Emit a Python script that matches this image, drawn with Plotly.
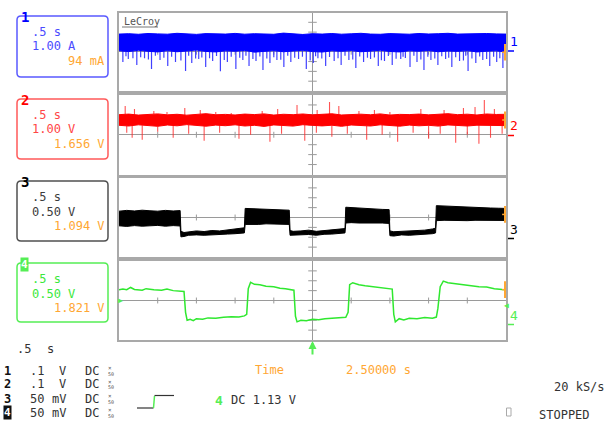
import numpy as np
import plotly.graph_objects as go

W, H = 616, 422


def fx(x):
    return x / W


def fy(y):
    return 1 - y / H


# ---------------- acquisition settings ----------------
TIME_PER_DIV = 0.5
N_XDIV, N_YDIV = 10, 8
T_END = TIME_PER_DIV * N_XDIV
SCALE = [1.00, 1.00, 0.50, 0.50]          # units per division, channels 1-4
TRACE_COLORS = ["#0000ff", "#ff0000", "#000000", "#2fe82f"]
TEXT_COLORS = ["#4b4bff", "#ff4646", "#3c3c3c", "#3be83b"]
BOX_COLORS = ["#5a5aff", "#ff5a5a", "#505050", "#55ee55"]
ORANGE = "#ffa733"
FRAME = "#a9a9a9"
GRID = "#9a9a9a"
MONO = "DejaVu Sans Mono"

# ---------------- channel 1 (current, A) ----------------
ch1_band_t = [i * 0.125 for i in range(41)]
ch1_band_hi = [1.80, 1.84, 1.78, 1.86, 1.82, 1.79, 1.88, 1.81, 1.77, 1.85, 1.83,
               1.80, 1.87, 1.79, 1.84, 1.82, 1.78, 1.90, 1.81, 1.76, 1.84, 1.80,
               1.86, 1.79, 1.83, 1.88, 1.80, 1.78, 1.85, 1.82, 1.79, 1.86, 1.81,
               1.84, 1.88, 1.80, 1.83, 1.79, 1.86, 1.82, 1.80]
ch1_band_lo = [0.10, 0.02, 0.15, 0.05, -0.02, 0.12, 0.00, 0.08, 0.18, 0.03,
               -0.02, 0.10, 0.05, 0.14, -0.04, 0.06, 0.12, 0.00, 0.08, 0.15,
               0.02, -0.03, 0.10, 0.05, 0.12, 0.00, 0.07, 0.15, 0.03, -0.02,
               0.10, 0.06, 0.13, 0.00, 0.08, 0.04, 0.12, -0.02, 0.06, 0.10,
               -0.05]
ch1_spike_t = [0.05, 0.12, 0.23, 0.33, 0.42, 0.53, 0.63, 0.73, 0.86, 0.94, 1.03,
               1.12, 1.21, 1.31, 1.40, 1.51, 1.60, 1.68, 1.77, 1.86, 1.95, 2.04,
               2.13, 2.22, 2.32, 2.42, 2.51, 2.57, 2.67, 2.78, 2.87, 2.97, 3.06,
               3.16, 3.25, 3.35, 3.43, 3.53, 3.64, 3.76, 3.85, 3.94, 4.03, 4.12,
               4.22, 4.30, 4.40, 4.51, 4.61, 4.70, 4.79, 4.88, 4.96,
               0.18, 0.38, 0.58, 0.80, 0.99, 1.17, 1.36, 1.56, 1.73, 1.91, 2.09,
               2.27, 2.47, 2.62, 2.83, 3.02, 3.21, 3.39, 3.58, 3.70, 3.90, 4.08,
               4.26, 4.45, 4.56, 4.75, 4.92,
               0.09, 0.28, 0.47, 0.68, 0.90, 1.07, 1.26, 1.45, 1.64, 1.82, 2.00,
               2.18, 2.37, 2.54, 2.72, 2.92, 3.11, 3.30, 3.48, 3.67, 3.81, 3.99,
               4.17, 4.35, 4.48, 4.66, 4.84]
ch1_spike_min = [-1.05, -0.75, -1.35, -0.65, -1.75, -0.85, -1.45, -1.05, -1.95,
                 -1.15, -0.75, -1.55, -0.95, -2.00, -1.05, -1.75, -0.85, -1.45,
                 -0.95, -1.85, -1.15, -0.85, -1.55, -1.05, -0.75, -1.75, -1.15,
                 -0.65, -1.45, -0.95, -1.35, -0.85, -1.65, -1.05, -0.75, -1.45,
                 -0.95, -1.35, -0.75, -1.55, -1.05, -1.85, -0.85, -1.35, -0.75,
                 -1.55, -0.95, -1.95, -1.15, -0.85, -1.45, -1.05, -1.65,
                 -0.65, -0.80, -0.60, -0.90, -0.70, -0.65, -0.85, -0.60, -0.75,
                 -0.68, -0.82, -0.62, -0.90, -0.70, -0.65, -0.78, -0.60, -0.86,
                 -0.72, -0.64, -0.80, -0.68, -0.62, -0.88, -0.70, -0.75, -0.66,
                 -0.45, -0.55, -0.40, -0.50, -0.42, -0.58, -0.44, -0.52, -0.40,
                 -0.48, -0.56, -0.42, -0.50, -0.46, -0.54, -0.40, -0.48, -0.58,
                 -0.44, -0.52, -0.40, -0.50, -0.46, -0.55, -0.42, -0.48, -0.52]

# ---------------- channel 2 (V) ----------------
ch2_band_t = [i * 0.125 for i in range(41)]
ch2_band_hi = [2.02, 2.08, 1.98, 2.05, 2.10, 2.00, 2.06, 1.97, 2.04, 2.12, 2.01,
               2.05, 1.99, 2.08, 2.03, 2.10, 1.98, 2.06, 2.02, 2.09, 2.00, 2.05,
               2.11, 1.99, 2.04, 2.07, 2.01, 2.10, 1.98, 2.05, 2.03, 2.08, 2.00,
               2.06, 2.12, 2.02, 2.07, 1.99, 2.09, 2.04, 2.06]
ch2_band_lo = [0.95, 0.88, 1.00, 0.92, 0.85, 0.98, 0.90, 1.02, 0.94, 0.86, 0.97,
               0.91, 1.00, 0.88, 0.95, 0.84, 0.99, 0.92, 0.87, 1.01, 0.93, 0.89,
               0.96, 0.85, 0.98, 0.91, 0.88, 1.00, 0.93, 0.86, 0.97, 0.90, 0.95,
               0.87, 0.99, 0.92, 0.88, 0.96, 0.90, 0.94, 0.92]
ch2_up_t = [0.08, 0.20, 0.45, 0.62, 0.85, 1.05, 1.25, 1.45, 1.85, 2.05, 2.30,
            2.56, 2.72, 2.84, 3.10, 3.30, 3.50, 3.90, 4.20, 4.45, 4.60, 4.72, 4.85]
ch2_up_max = [2.9, 2.6, 2.4, 2.3, 2.7, 2.5, 2.3, 2.2, 2.4, 2.6, 3.0, 2.5, 3.3,
              2.9, 2.4, 2.5, 2.3, 2.6, 2.5, 2.7, 2.8, 3.5, 2.6]
ch2_dn_t = [0.10, 0.17, 0.30, 0.50, 0.70, 0.90, 1.10, 1.30, 1.55, 1.70, 1.95,
            2.10, 2.40, 2.55, 2.75, 2.95, 3.20, 3.40, 3.60, 3.80, 4.00, 4.15,
            4.35, 4.50, 4.65, 4.80, 4.95]
ch2_dn_min = [0.2, -0.3, -0.5, 0.3, -0.3, 0.1, -0.6, 0.2, -0.4, 0.0, -0.7, 0.1,
              -0.6, 0.2, -0.2, 0.1, -0.5, 0.0, -0.7, 0.2, -0.4, 0.1, -0.8, 0.0,
              -0.9, -0.3, 0.1]

# ---------------- channel 3 (V): envelope of the noisy square wave ----------------
ch3_t = [0.00, 0.10, 0.20, 0.30, 0.40, 0.50, 0.60, 0.70, 0.79, 0.80, 0.84, 0.90,
         1.00, 1.10, 1.20, 1.30, 1.40, 1.50, 1.58, 1.62, 1.63, 1.70, 1.80, 1.90,
         2.00, 2.10, 2.20, 2.21, 2.25, 2.35, 2.45, 2.55, 2.65, 2.75, 2.85, 2.92,
         2.93, 3.00, 3.10, 3.20, 3.30, 3.40, 3.49, 3.50, 3.55, 3.65, 3.75, 3.85,
         3.95, 4.05, 4.09, 4.10, 4.20, 4.30, 4.40, 4.50, 4.60, 4.70, 4.80, 4.90,
         5.00]
ch3_upper = [0.32, 0.36, 0.33, 0.37, 0.34, 0.32, 0.36, 0.33, 0.35, -0.70, -0.76,
             -0.72, -0.68, -0.71, -0.66, -0.68, -0.64, -0.60, -0.56, -0.52, 0.46,
             0.45, 0.42, 0.41, 0.40, 0.38, 0.37, -0.66, -0.70, -0.68, -0.64, -0.70,
             -0.66, -0.64, -0.60, -0.56, 0.52, 0.50, 0.47, 0.45, 0.43, 0.41, 0.40,
             -0.68, -0.72, -0.70, -0.68, -0.66, -0.64, -0.58, -0.54, 0.60, 0.58,
             0.55, 0.53, 0.52, 0.50, 0.49, 0.48, 0.47, 0.46]
ch3_lower = [-0.42, -0.45, -0.41, -0.44, -0.42, -0.40, -0.44, -0.41, -0.43, -0.98,
             -0.96, -0.90, -0.88, -0.90, -0.85, -0.86, -0.84, -0.82, -0.80, -0.78,
             -0.35, -0.33, -0.35, -0.32, -0.34, -0.33, -0.35, -0.90, -0.92, -0.88,
             -0.86, -0.90, -0.85, -0.84, -0.82, -0.78, -0.28, -0.26, -0.28, -0.27,
             -0.29, -0.28, -0.30, -0.92, -0.94, -0.88, -0.90, -0.86, -0.85, -0.82,
             -0.78, -0.16, -0.14, -0.17, -0.15, -0.16, -0.14, -0.15, -0.13, -0.14,
             -0.15]

# ---------------- channel 4 (V) ----------------
ch4_t = [0.00, 0.05, 0.10, 0.15, 0.20, 0.30, 0.35, 0.45, 0.55, 0.62, 0.70, 0.80,
         0.84, 0.86, 0.88, 0.92, 0.96, 1.00, 1.08, 1.15, 1.25, 1.35, 1.45, 1.55,
         1.62, 1.65, 1.67, 1.70, 1.75, 1.82, 1.90, 2.00, 2.08, 2.15, 2.22, 2.26,
         2.28, 2.30, 2.35, 2.42, 2.50, 2.58, 2.66, 2.75, 2.85, 2.93, 2.96, 2.98,
         3.02, 3.10, 3.18, 3.28, 3.38, 3.48, 3.53, 3.55, 3.57, 3.62, 3.68, 3.75,
         3.85, 3.95, 4.05, 4.10, 4.12, 4.15, 4.19, 4.25, 4.35, 4.45, 4.55, 4.65,
         4.75, 4.85, 4.95, 5.00]
ch4_v = [0.55, 0.58, 0.55, 0.66, 0.56, 0.52, 0.60, 0.54, 0.52, 0.58, 0.50, 0.48,
         0.46, -0.60, -1.00, -0.95, -1.02, -0.92, -0.95, -0.88, -0.90, -0.85,
         -0.82, -0.84, -0.78, -0.70, 0.60, 0.92, 0.82, 0.80, 0.72, 0.70, 0.62,
         0.60, 0.55, 0.52, -0.80, -1.08, -1.00, -1.02, -0.95, -0.98, -0.92, -0.90,
         -0.88, -0.85, -0.60, 0.80, 0.90, 0.80, 0.75, 0.70, 0.66, 0.60, 0.58,
         -0.70, -1.08, -0.92, -0.98, -0.90, -0.92, -0.86, -0.90, -0.84, -0.40,
         0.70, 0.98, 0.90, 0.85, 0.78, 0.75, 0.70, 0.68, 0.60, 0.56, 0.55]

# ---------------- readouts ----------------
box_lines = [(".5 s", "1.00 A", "94 mA"),
             (".5 s", "1.00 V", "1.656 V"),
             (".5 s", "0.50 V", "1.094 V"),
             (".5 s", "0.50 V", "1.821 V")]
row_values = [".1", ".1", "50", "50"]
row_units = ["V", "V", "mV", "mV"]
time_label, time_value = "Time", "2.50000 s"
trig_label = "DC 1.13 V"
rate_label = "20 kS/s"
state_label = "STOPPED"

# ---------------- layout geometry (pixels) ----------------
PANEL_X = (119, 506)
PANEL_Y = [(12.5, 91), (95, 174.5), (178, 257), (261, 340)]
BOX_X = (17, 108)
BOX_Y = [(16, 77), (99, 159), (181, 241), (263, 322)]


def spikes(ts, ends, base_t, base_v):
    xs, ys = [], []
    for t, v in zip(ts, ends):
        b = float(np.interp(t, base_t, base_v))
        xs += [t, t, None]
        ys += [b, v, None]
    return xs, ys


def band(t, hi, lo):
    return list(t) + list(t)[::-1], list(hi) + list(lo)[::-1]


fig = go.Figure()

# channel 1
sx, sy = spikes(ch1_spike_t, ch1_spike_min, ch1_band_t, ch1_band_lo)
fig.add_trace(go.Scatter(x=sx, y=sy, mode="lines",
                         line=dict(color="rgba(30,30,255,0.85)", width=1.2),
                         xaxis="x", yaxis="y", hoverinfo="skip"))
bx, by = band(ch1_band_t, ch1_band_hi, ch1_band_lo)
fig.add_trace(go.Scatter(x=bx, y=by, fill="toself", fillcolor=TRACE_COLORS[0],
                         line=dict(color=TRACE_COLORS[0], width=1), mode="lines",
                         xaxis="x", yaxis="y", hoverinfo="skip"))

# channel 2
ux, uy = spikes(ch2_up_t, ch2_up_max, ch2_band_t, ch2_band_hi)
dx, dy = spikes(ch2_dn_t, ch2_dn_min, ch2_band_t, ch2_band_lo)
fig.add_trace(go.Scatter(x=ux + dx, y=uy + dy, mode="lines",
                         line=dict(color="rgba(255,40,40,0.8)", width=1.1),
                         xaxis="x2", yaxis="y2", hoverinfo="skip"))
bx, by = band(ch2_band_t, ch2_band_hi, ch2_band_lo)
fig.add_trace(go.Scatter(x=bx, y=by, fill="toself", fillcolor=TRACE_COLORS[1],
                         line=dict(color=TRACE_COLORS[1], width=1), mode="lines",
                         xaxis="x2", yaxis="y2", hoverinfo="skip"))

# channel 3
bx, by = band(ch3_t, ch3_upper, ch3_lower)
fig.add_trace(go.Scatter(x=bx, y=by, fill="toself", fillcolor=TRACE_COLORS[2],
                         line=dict(color=TRACE_COLORS[2], width=1), mode="lines",
                         xaxis="x3", yaxis="y3", hoverinfo="skip"))

# channel 4
fig.add_trace(go.Scatter(x=ch4_t, y=ch4_v, mode="lines",
                         line=dict(color=TRACE_COLORS[3], width=1.5),
                         xaxis="x4", yaxis="y4", hoverinfo="skip"))

shapes, annotations = [], []
layout = dict(width=W, height=H, margin=dict(l=0, r=0, t=0, b=0),
              paper_bgcolor="white", plot_bgcolor="white", showlegend=False)

for i in range(4):
    s = SCALE[i]
    top, bot = PANEL_Y[i]
    xn = "x" if i == 0 else f"x{i + 1}"
    yn = "y" if i == 0 else f"y{i + 1}"
    layout["xaxis" if i == 0 else f"xaxis{i + 1}"] = dict(
        domain=[fx(PANEL_X[0]), fx(PANEL_X[1])], range=[0, T_END], anchor=yn,
        showline=True, mirror=True, linecolor=FRAME, linewidth=2,
        tickvals=[T_END / 2], showticklabels=False, ticks="",
        showgrid=True, gridcolor=GRID, gridwidth=1, zeroline=False, fixedrange=True)
    layout["yaxis" if i == 0 else f"yaxis{i + 1}"] = dict(
        domain=[fy(bot), fy(top)], range=[-N_YDIV / 2 * s, N_YDIV / 2 * s], anchor=xn,
        showline=True, mirror=True, linecolor=FRAME, linewidth=2,
        tickvals=[0], showticklabels=False, ticks="",
        showgrid=True, gridcolor=GRID, gridwidth=1, zeroline=False, fixedrange=True)
    # minor division marks on the centre cross
    for k in range(1, N_XDIV):
        if k == N_XDIV // 2:
            continue
        shapes.append(dict(type="line", xref=xn, yref=yn, layer="below",
                           x0=k * TIME_PER_DIV, x1=k * TIME_PER_DIV,
                           y0=-0.3 * s, y1=0.3 * s, line=dict(color=GRID, width=1)))
    for j in range(-N_YDIV // 2 + 1, N_YDIV // 2):
        if j == 0:
            continue
        shapes.append(dict(type="line", xref=xn, yref=yn, layer="below",
                           x0=T_END / 2 - 0.055, x1=T_END / 2 + 0.055,
                           y0=j * s, y1=j * s, line=dict(color=GRID, width=1)))

    # readout box
    x0, x1 = BOX_X
    y0, y1 = BOX_Y[i]
    r = 4
    pts = [("M", x0 + r, y0), ("L", x1 - r, y0), ("Q", x1, y0, x1, y0 + r),
           ("L", x1, y1 - r), ("Q", x1, y1, x1 - r, y1), ("L", x0 + r, y1),
           ("Q", x0, y1, x0, y1 - r), ("L", x0, y0 + r), ("Q", x0, y0, x0 + r, y0)]
    path = ""
    for p in pts:
        cmd, coords = p[0], p[1:]
        path += cmd + " " + " ".join(
            f"{fx(coords[k]):.5f},{fy(coords[k + 1]):.5f}" for k in range(0, len(coords), 2)) + " "
    shapes.append(dict(type="path", xref="paper", yref="paper", path=path + "Z",
                       line=dict(color=BOX_COLORS[i], width=1.5)))
    l1, l2, l3 = box_lines[i]
    annotations += [
        dict(x=fx(30), y=fy(y0 + 16), text=l1, xanchor="left",
             font=dict(color=TEXT_COLORS[i], size=12, family=MONO)),
        dict(x=fx(30), y=fy(y0 + 30.5), text=l2, xanchor="left",
             font=dict(color=TEXT_COLORS[i], size=12, family=MONO)),
        dict(x=fx(106.5), y=fy(y0 + 45), text=l3, xanchor="right",
             font=dict(color=ORANGE, size=12, family=MONO)),
    ]
    if i < 3:
        annotations.append(dict(x=fx(19.5), y=fy(y0 + 1), text=f"<b>{i + 1}</b>",
                                xanchor="left",
                                font=dict(color=TRACE_COLORS[i], size=14, family=MONO)))
    else:
        annotations.append(dict(x=fx(20), y=fy(y0 + 1), text=f"<b>{i + 1}</b>",
                                xanchor="left", bgcolor=BOX_COLORS[i], borderpad=0,
                                font=dict(color="white", size=11, family=MONO)))

    # channel tag on the right edge
    tag_y = {0: 41.5, 1: 126, 2: 229, 3: 315}[i]
    annotations.append(dict(x=fx(507.5), y=fy(tag_y), text=str(i + 1), xanchor="left",
                            font=dict(color=TRACE_COLORS[i] if i != 3 else BOX_COLORS[i],
                                      size=13, family=MONO)))
    shapes.append(dict(type="line", xref="paper", yref="paper",
                       x0=fx(508), x1=fx(514), y0=fy(tag_y + 9.5), y1=fy(tag_y + 9.5),
                       line=dict(color=TRACE_COLORS[i] if i != 3 else BOX_COLORS[i], width=1.5)))

# level cursors at the right edge, at the end level of each trace
end_levels = [ch1_band_lo[-1],
              (ch2_band_hi[-1] + ch2_band_lo[-1]) / 2,
              (ch3_upper[-1] + ch3_lower[-1]) / 2,
              ch4_v[-1]]
for i, lvl in enumerate(end_levels):
    xn = "x" if i == 0 else f"x{i + 1}"
    yn = "y" if i == 0 else f"y{i + 1}"
    s = SCALE[i]
    shapes.append(dict(type="line", xref=xn, yref=yn, x0=T_END, x1=T_END,
                       y0=lvl - 0.85 * s, y1=lvl + 0.85 * s,
                       line=dict(color=ORANGE, width=4)))
    shapes.append(dict(type="line", xref=xn, yref=yn, x0=T_END - 0.05, x1=T_END + 0.07,
                       y0=lvl, y1=lvl, line=dict(color=ORANGE, width=1.5)))

# channel 4 ground markers
annotations.append(dict(x=fx(116), y=0, xref="paper", yref="y4", text="▶",
                        showarrow=False, font=dict(color=BOX_COLORS[3], size=8, family=MONO)))
annotations.append(dict(x=fx(511), y=fy(305), text="◀",
                        font=dict(color=BOX_COLORS[3], size=8, family=MONO)))

# trigger position arrow
annotations.append(dict(x=T_END / 2, y=fy(341), xref="x4", yref="paper", text="",
                        showarrow=True, ax=0, ay=15, arrowhead=2, arrowsize=0.8,
                        arrowwidth=2, arrowcolor=BOX_COLORS[3]))

# LeCroy logo
annotations.append(dict(x=fx(122), y=fy(21.5), text="LeCroy", xanchor="left",
                        font=dict(color="#555555", size=10, family=MONO)))
shapes.append(dict(type="line", xref="paper", yref="paper", x0=fx(122), x1=fx(158),
                   y0=fy(27), y1=fy(27), line=dict(color="#777777", width=1)))

# bottom readouts
DARK = "#333333"
annotations += [
    dict(x=fx(15), y=fy(349), text=".5", xanchor="left",
         font=dict(color=DARK, size=12, family=MONO)),
    dict(x=fx(45), y=fy(349), text="s", xanchor="left",
         font=dict(color=DARK, size=12, family=MONO)),
]
ROW_Y = [370.5, 384, 398.5, 412.5]
for i in range(4):
    yy = ROW_Y[i]
    if i < 3:
        annotations.append(dict(x=fx(2), y=fy(yy), text=f"<b>{i + 1}</b>", xanchor="left",
                                font=dict(color="#111111", size=12, family=MONO)))
    else:
        annotations.append(dict(x=fx(2.5), y=fy(yy), text=f"<b>{i + 1}</b>", xanchor="left",
                                bgcolor="#111111", borderpad=0,
                                font=dict(color="white", size=11, family=MONO)))
    annotations += [
        dict(x=fx(28), y=fy(yy), text=row_values[i], xanchor="left",
             font=dict(color=DARK, size=12, family=MONO)),
        dict(x=fx(68), y=fy(yy), text=row_units[i], xanchor="right",
             font=dict(color=DARK, size=12, family=MONO)),
        dict(x=fx(83), y=fy(yy), text="DC", xanchor="left",
             font=dict(color=DARK, size=12, family=MONO)),
        dict(x=fx(106), y=fy(yy - 3), text="×", xanchor="left",
             font=dict(color="#555555", size=6, family=MONO)),
        dict(x=fx(106), y=fy(yy + 3), text="50", xanchor="left",
             font=dict(color="#555555", size=5, family=MONO)),
    ]

# trigger slope glyph
shapes += [
    dict(type="line", xref="paper", yref="paper", x0=fx(137), x1=fx(153.5),
         y0=fy(408), y1=fy(408), line=dict(color=DARK, width=1.2)),
    dict(type="line", xref="paper", yref="paper", x0=fx(153.5), x1=fx(154.5),
         y0=fy(408), y1=fy(396), line=dict(color=BOX_COLORS[3], width=1.5)),
    dict(type="line", xref="paper", yref="paper", x0=fx(154.5), x1=fx(174),
         y0=fy(395.5), y1=fy(395.5), line=dict(color=DARK, width=1.2)),
]
annotations += [
    dict(x=fx(213), y=fy(400), text="<b>4</b>", xanchor="left",
         font=dict(color=BOX_COLORS[3], size=13, family=MONO)),
    dict(x=fx(229), y=fy(400), text=trig_label, xanchor="left",
         font=dict(color=DARK, size=12, family=MONO)),
    dict(x=fx(252.5), y=fy(370), text=time_label, xanchor="left",
         font=dict(color=ORANGE, size=12, family=MONO)),
    dict(x=fx(344), y=fy(370), text=time_value, xanchor="left",
         font=dict(color=ORANGE, size=12, family=MONO)),
    dict(x=fx(552), y=fy(387), text=rate_label, xanchor="left",
         font=dict(color=DARK, size=12, family=MONO)),
    dict(x=fx(536.5), y=fy(415), text=state_label, xanchor="left",
         font=dict(color=DARK, size=12, family=MONO)),
]
shapes.append(dict(type="rect", xref="paper", yref="paper", x0=fx(506.5), x1=fx(511),
                   y0=fy(416), y1=fy(408), line=dict(color="#aaaaaa", width=1)))

for a in annotations:
    a.setdefault("xref", "paper")
    a.setdefault("yref", "paper")
    a.setdefault("showarrow", False)
    a.setdefault("yanchor", "middle")

layout["shapes"] = shapes
layout["annotations"] = annotations
fig.update_layout(**layout)
fig.write_html("out.html")
